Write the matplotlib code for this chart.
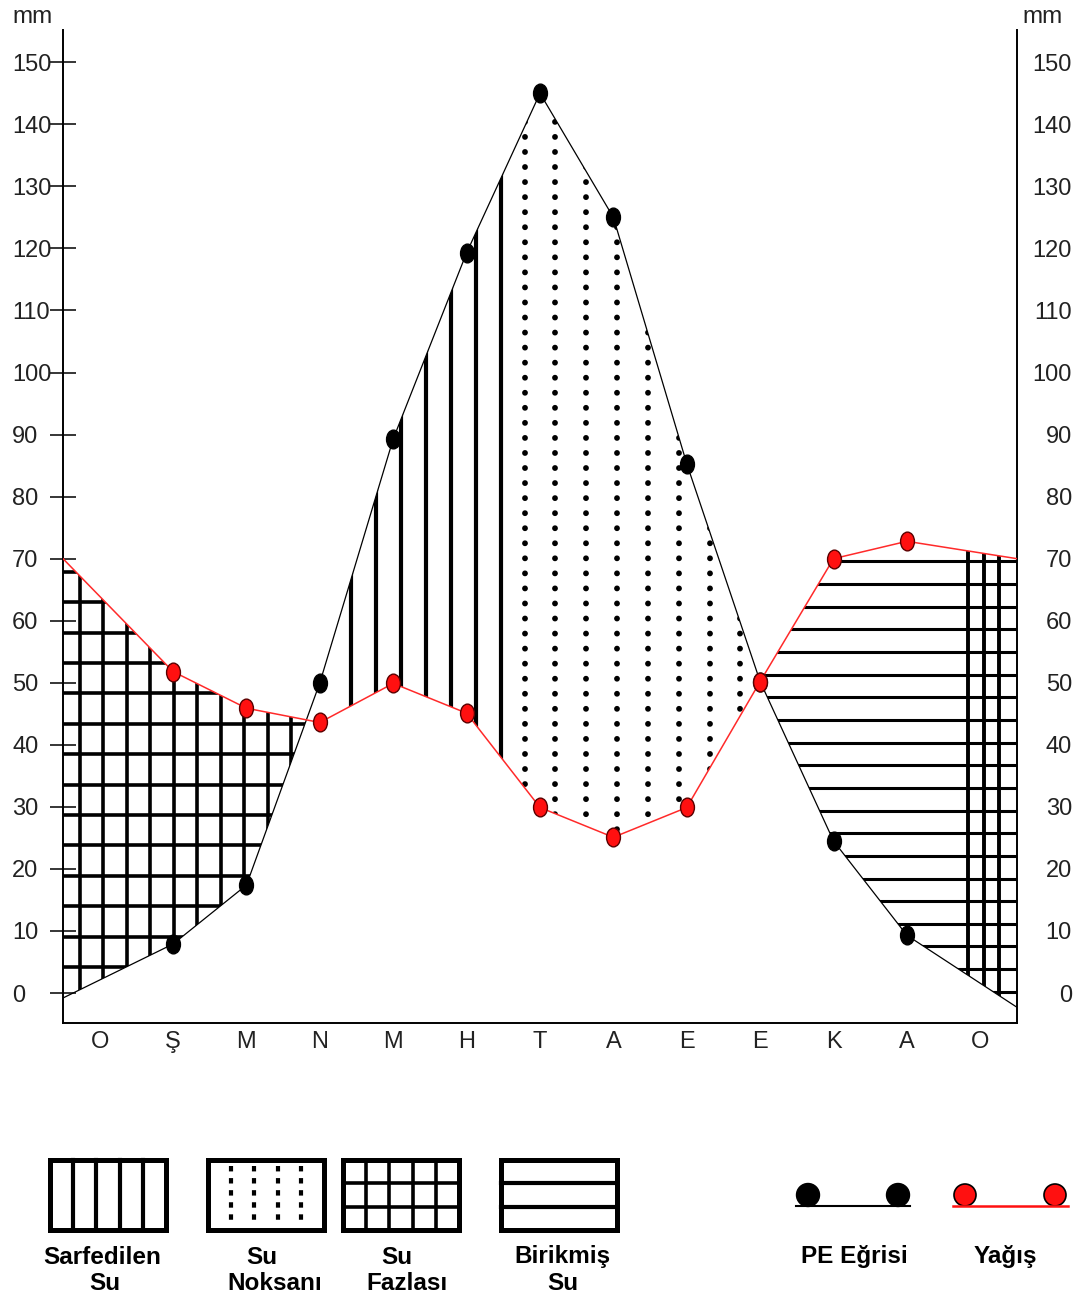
import matplotlib
matplotlib.use("Agg")
import matplotlib.pyplot as plt
import numpy as np
from matplotlib.patches import Polygon, Rectangle, Circle
from matplotlib.markers import MarkerStyle
from matplotlib.transforms import Affine2D

plt.rcParams['font.family'] = ['Liberation Sans', 'DejaVu Sans']

# aylar (Ocak ... Ocak)
aylar = ["O", "Ş", "M", "N", "M", "H", "T", "A", "E", "E", "K", "A", "O"]
# egri noktalarinin x konumlari (ay indeksi, uclar eksen kenarinda)
x_nokta = [-0.5, 1, 2, 3, 4, 5, 6, 7, 8, 9, 10, 11, 12.5]
pe = [-0.8, 7.9, 17.4, 50, 89.3, 119.3, 145, 125, 85.3, 50.2, 24.5, 9.3, -2.3]
yagis = [70, 51.8, 45.9, 43.6, 49.9, 45.1, 29.9, 25.1, 29.9, 50.2, 70, 72.8, 70]
sarf_bitis = 5.65        # sarfedilen su -> su noksani gecisi
fazla2_baslangic = 11.72  # sagdaki su fazlasi baslangici
yticks = list(range(0, 151, 10))

x = np.array(x_nokta)
d = np.array(pe) - np.array(yagis)
kes = []
for i in range(len(x) - 1):
    if d[i] == 0:
        kes.append(x[i])
    elif d[i] * d[i + 1] < 0:
        kes.append(x[i] - d[i] * (x[i + 1] - x[i]) / (d[i + 1] - d[i]))

fig = plt.figure(figsize=(10.82, 13.0), dpi=100)
ax = fig.add_axes([63 / 1082, 277 / 1300, 954 / 1082, 993 / 1300])
ax.set_xlim(-0.5, 12.5)
ax.set_ylim(-4.83, 155.2)
ax.autoscale(False)


def bolge(x0, x1):
    xs = np.union1d([x0, x1], [v for v in x_nokta if x0 < v < x1])
    a = np.interp(xs, x_nokta, pe)
    b = np.interp(xs, x_nokta, yagis)
    ust = np.maximum(a, b)
    alt = np.minimum(a, b)
    verts = np.column_stack([np.r_[xs, xs[::-1]], np.r_[ust, alt[::-1]]])
    p = Polygon(verts, closed=True, facecolor='none', edgecolor='none')
    ax.add_patch(p)
    return p


def dikey(p, xs, **kw):
    for xv in xs:
        l, = ax.plot([xv, xv], [-10, 170], color='black', **kw)
        l.set_clip_path(p)


def yatay(p, ys, **kw):
    for yv in ys:
        l, = ax.plot([-1, 13], [yv, yv], color='black', **kw)
        l.set_clip_path(p)


# su fazlasi (sol)
p1 = bolge(-0.5, kes[0])
dikey(p1, np.arange(-0.27, 2.9, 0.32), lw=2.6)
yatay(p1, np.arange(4.2, 70, 4.9), lw=2.6)

# sarfedilen su
p2 = bolge(kes[0], sarf_bitis)
dikey(p2, np.arange(3.43, 5.6, 0.34), lw=3)

# su noksani
p3 = bolge(sarf_bitis, kes[1])
for xv in np.arange(5.79, 9.0, 0.42):
    l, = ax.plot([xv, xv], [-10, 170], color='black', lw=4.2,
                 linestyle=(0, (0.01, 2.57)), dash_capstyle='round')
    l.set_clip_path(p3)

# birikmis su + su fazlasi (sag)
p4 = bolge(kes[1], 12.5)
yatay(p4, np.arange(0.2, 73, 3.65), lw=2.2)
dikey(p4, np.arange(11.83, 12.4, 0.215), lw=2.8)

# egriler
elips = MarkerStyle('o', transform=Affine2D().scale(0.8, 1.08))
ax.plot(x_nokta, pe, color='black', lw=0.9, zorder=5)
ax.plot(x_nokta, yagis, color='#ff2a2a', lw=1.1, zorder=5)
ax.plot(x_nokta[1:-1], pe[1:-1], linestyle='none', marker=elips, ms=12.5,
        color='black', zorder=6)
ax.plot(x_nokta[1:-1], yagis[1:-1], linestyle='none', marker=elips, ms=12.5,
        markerfacecolor='#ff1010', markeredgecolor='#5a0000', mew=1, zorder=6)

# eksenler
ax.spines['top'].set_visible(False)
for s in ['left', 'bottom', 'right']:
    ax.spines[s].set_linewidth(1.4)
ax.set_xticks(range(len(aylar)), aylar)
ax.tick_params(axis='x', length=0, pad=6, labelsize=17, colors='#222222')
ax.set_yticks(yticks, [str(v) for v in yticks])
ax.tick_params(axis='y', direction='inout', length=19.4, width=1.1, pad=27,
               labelsize=17, labelcolor='#222222')
for t in ax.get_yticklabels():
    t.set_horizontalalignment('left')
ax.yaxis.get_major_ticks()[0].tick1line.set_visible(False)

ax2 = ax.twinx()
ax2.set_ylim(ax.get_ylim())
ax2.set_yticks(yticks, [str(v) for v in yticks])
ax2.tick_params(axis='y', length=0, pad=39.6, labelsize=17, labelcolor='#222222')
for t in ax2.get_yticklabels():
    t.set_horizontalalignment('right')
for s in ax2.spines.values():
    s.set_visible(False)

fig.text(12 / 1082, 1 - 17 / 1300, 'mm', fontsize=17.5, va='center', ha='left', color='#222222')
fig.text(1022 / 1082, 1 - 17 / 1300, 'mm', fontsize=17.5, va='center', ha='left', color='#222222')

# lejant
lax = fig.add_axes([0, 0, 1, 1])
lax.set_xlim(0, 1082)
lax.set_ylim(1300, 0)
lax.axis('off')
lax.patch.set_visible(False)

kutu_x = [50, 208, 343, 501]
kw_kutu = dict(fill=False, edgecolor='black', lw=3.6)
for kx in kutu_x:
    lax.add_patch(Rectangle((kx, 1160), 116, 70, **kw_kutu))
for k in range(1, 5):
    xv = 50 + 116 * k / 5
    lax.plot([xv, xv], [1160, 1230], color='black', lw=3)
for k in range(1, 5):
    xv = 208 + 116 * k / 5
    lax.plot([xv, xv], [1166, 1226], color='black', lw=3,
             linestyle=(0, (1.3, 1.6)))
for k in range(1, 5):
    xv = 343 + 116 * k / 5
    lax.plot([xv, xv], [1160, 1230], color='black', lw=2.6)
for k in range(1, 3):
    yv = 1160 + 70 * k / 3
    lax.plot([343, 459], [yv, yv], color='black', lw=2.6)
    lax.plot([501, 617], [yv, yv], color='black', lw=3)

etiket = dict(fontsize=17.5, fontweight='bold', ha='center', va='center')
lax.text(102, 1257, 'Sarfedilen', **etiket)
lax.text(105, 1284, 'Su', **etiket)
lax.text(262, 1257, 'Su', **etiket)
lax.text(275, 1284, 'Noksanı', **etiket)
lax.text(397, 1257, 'Su', **etiket)
lax.text(407, 1284, 'Fazlası', **etiket)
lax.text(562, 1257, 'Birikmiş', **etiket)
lax.text(563, 1284, 'Su', **etiket)

lax.plot([796, 910], [1206, 1206], color='black', lw=1.5)
lax.add_patch(Circle((808, 1195), 11.5, color='black'))
lax.add_patch(Circle((898, 1195), 11.5, color='black'))
lax.plot([953, 1068], [1206, 1206], color='#ff1010', lw=1.8)
lax.add_patch(Circle((965, 1195), 11, facecolor='#ff1010', edgecolor='black', lw=1.2))
lax.add_patch(Circle((1055, 1195), 11, facecolor='#ff1010', edgecolor='black', lw=1.2))
lax.text(854, 1257, 'PE Eğrisi', **etiket)
lax.text(1005, 1257, 'Yağış', **etiket)

fig.savefig('out.png', dpi=100, facecolor='white')
